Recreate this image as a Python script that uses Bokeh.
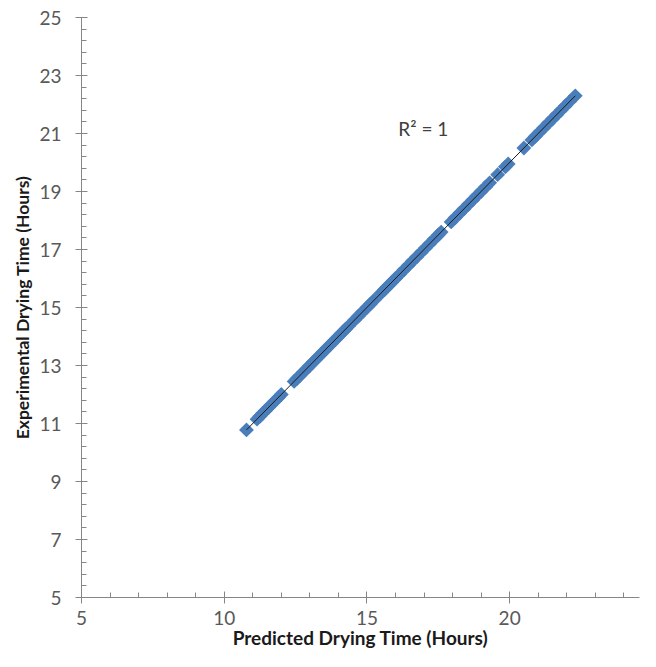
import numpy as np
from bokeh.plotting import figure
from bokeh.models import FixedTicker, Range1d, Label
from bokeh.embed import file_html
from bokeh.resources import INLINE

# Data (hours)
predicted = [10.78, 11.15, 11.25, 11.35, 11.45, 11.55, 11.65, 11.78, 11.9, 12.0,
             12.45, 12.55, 12.65, 12.78, 12.9, 13.0, 13.12, 13.25, 13.38, 13.5,
             13.62, 13.75, 13.88, 14.0, 14.12, 14.25, 14.36, 14.58, 14.7, 14.85,
             15.0, 15.12, 15.25, 15.5, 15.62, 15.75, 15.88, 16.0, 16.15, 16.3,
             16.45, 16.6, 16.75, 16.9, 17.05, 17.2, 17.35, 17.5, 17.6, 17.95,
             18.1, 18.25, 18.4, 18.55, 18.7, 18.85, 19.0, 19.15, 19.3, 19.58,
             19.85, 19.95, 20.5, 20.78, 20.9, 21.05, 21.2, 21.35, 21.5, 21.65,
             21.8, 21.95, 22.1, 22.3]
experimental = list(predicted)

x_major = [5, 10, 15, 20, 25]
y_major = [5, 7, 9, 11, 13, 15, 17, 19, 21, 23, 25]

label_font = "Lato"
axis_color = "#868686"
tick_label_color = "#595959"
marker_color = "#4a7ebb"

p = figure(width=640, height=651, output_backend="svg", toolbar_location=None,
           x_range=Range1d(5, 24.55), y_range=Range1d(5, 25),
           min_border_left=81, min_border_right=1, min_border_top=17, min_border_bottom=10)
p.outline_line_color = None
p.xgrid.visible = False
p.ygrid.visible = False
p.background_fill_color = "white"
p.border_fill_color = "white"

p.scatter(predicted, experimental, marker="square", size=10.5, angle=np.pi / 4,
          fill_color=marker_color, line_color=None)

# linear trendline through the data
slope, intercept = np.polyfit(predicted, experimental, 1)
tx = np.array([min(predicted), max(predicted)])
p.line(tx, slope * tx + intercept, line_color="#1a1a1a", line_width=1)

p.add_layout(Label(x=16.1, y=21.17, text="R² = 1", text_font=label_font,
                   text_font_size="19px", text_color="#404040",
                   text_baseline="middle", text_align="left"))

p.xaxis.ticker = FixedTicker(ticks=x_major, minor_ticks=list(range(5, 26)))
p.yaxis.ticker = FixedTicker(ticks=y_major,
                             minor_ticks=[round(5 + 0.4 * i, 2) for i in range(51)])

for ax in (p.xaxis[0], p.yaxis[0]):
    ax.axis_line_color = axis_color
    ax.major_tick_line_color = axis_color
    ax.minor_tick_line_color = axis_color
    ax.major_tick_in = 6
    ax.major_tick_out = 6
    ax.minor_tick_in = 5
    ax.minor_tick_out = 0
    ax.major_label_text_font = label_font
    ax.major_label_text_font_size = "19px"
    ax.major_label_text_color = tick_label_color
    ax.axis_label_text_font = label_font
    ax.axis_label_text_font_style = "bold"
    ax.axis_label_text_color = "#1a1a1a"

p.xaxis.axis_label_text_font_size = "19px"
p.yaxis.axis_label_text_font_size = "17.5px"
p.xaxis.axis_label = "Predicted Drying Time (Hours)"
p.yaxis.axis_label = "Experimental Drying Time (Hours)"
p.xaxis.major_label_standoff = 7
p.xaxis.axis_label_standoff = -2
p.yaxis.major_label_standoff = 14
p.yaxis.axis_label_standoff = 3

open("out.html", "w").write(file_html(p, INLINE))
